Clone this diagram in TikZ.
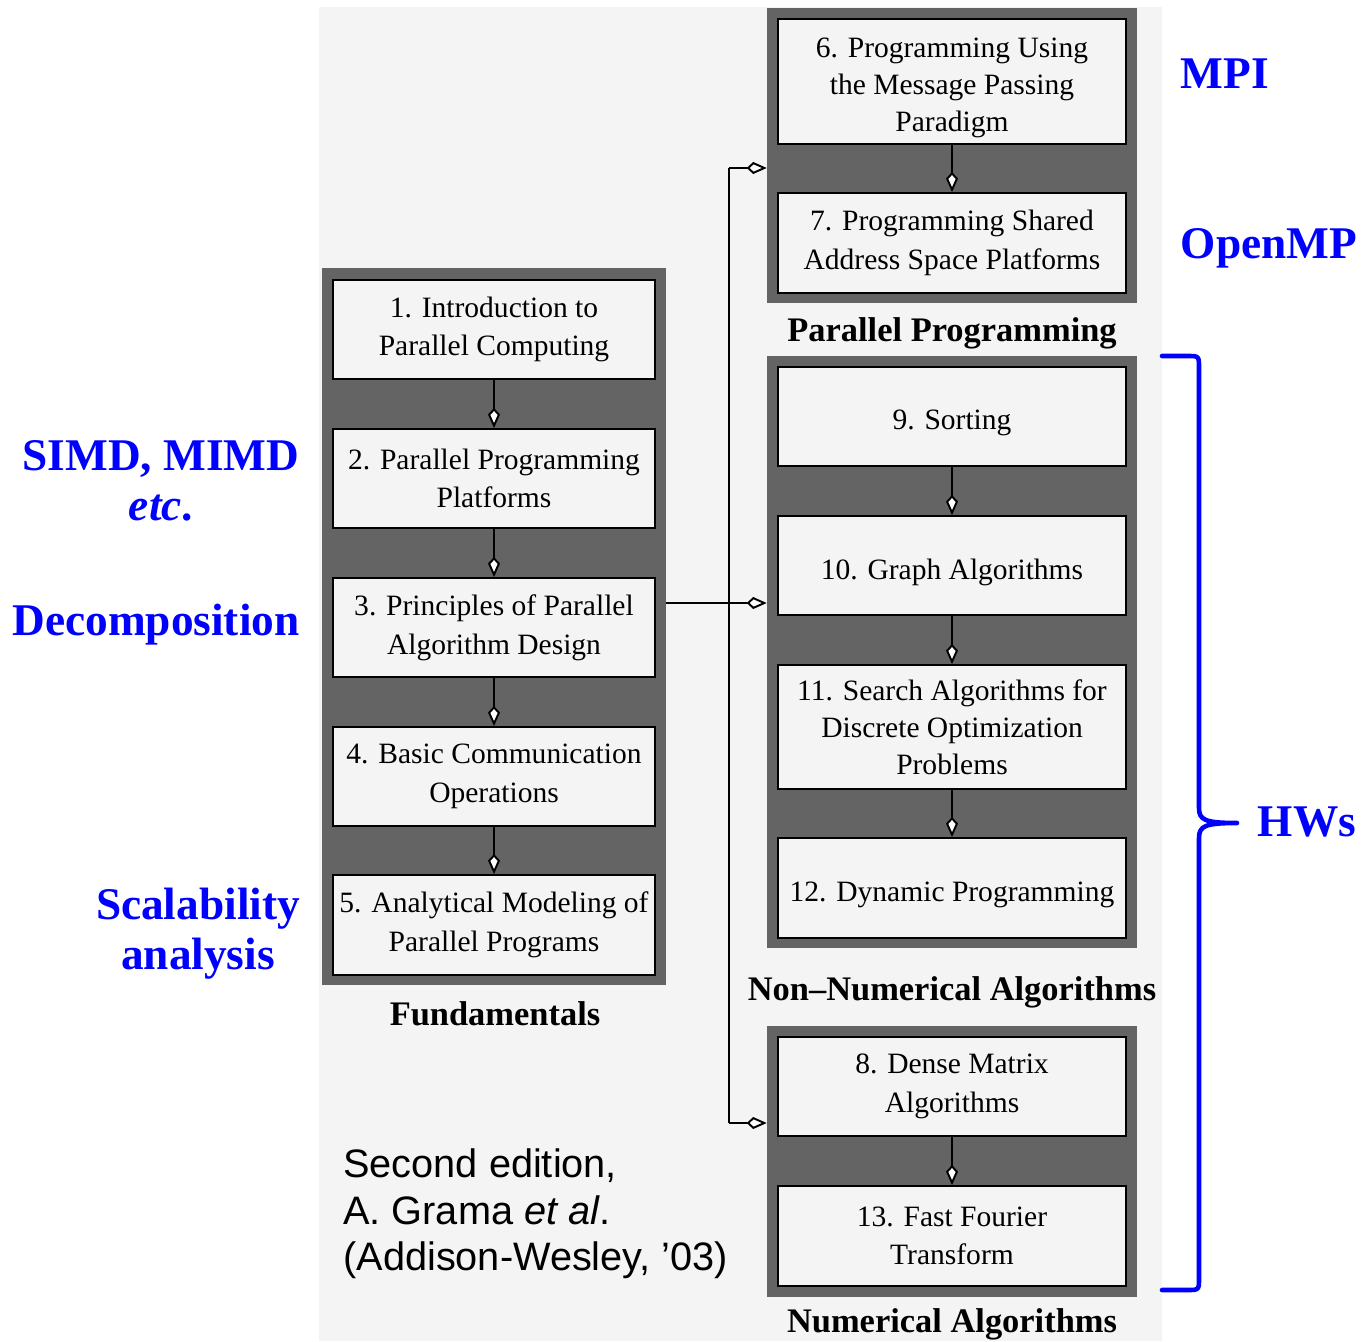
\documentclass[tikz,border=0pt]{standalone}
\usepackage{fontspec}
\setmainfont{Liberation Serif}
\setsansfont{Liberation Sans}
\usetikzlibrary{arrows.meta,positioning}
\definecolor{paper}{RGB}{244,244,244}
\definecolor{panelgray}{RGB}{100,100,100}
\newcommand\LeftW{6.44cm}
\newcommand\RightW{6.96cm}
\newcommand\Lift{\rule{0pt}{0.64cm}}
\tikzset{
  chapter/.style={
    draw,
    line width=1.1pt,
    fill=paper,
    inner sep=0pt,
    align=center,
    font=\fontsize{16.8}{22}\selectfont
  },
  oneline/.style={
    text height=0.54cm,
    text depth=0pt
  },
}
\tikzset{
  panel/.style={
    fill=panelgray,
    inner sep=0pt
  },
}
\tikzset{
  link/.style={
    line width=1.1pt,
    -{Kite[length=0.4cm,width=0.24cm,inset=0.13cm,fill=white]}
  },
  bus/.style={
    line width=1.1pt
  },
  grouplabel/.style={
    font=\fontsize{19.6}{24}\selectfont\bfseries,
    inner sep=0pt
  },
  hint/.style={
    text=blue,
    align=center,
    inner sep=0pt,
    font=\fontsize{25.8}{28.3}\selectfont\bfseries
  },
  hwbrace/.style={
    draw=blue,
    line width=2.6pt,
    line cap=round,
    line join=round
  }
}

\begin{document}
\begin{tikzpicture}[x=0.02cm,y=-0.02cm]
    \useasboundingbox (0,0) rectangle (1361,1341);
    \fill[paper] (319,7) rectangle (1162,1341);

    % panels
    \node[panel, minimum width=6.88cm, minimum height=14.34cm] (fund) at (494,626.5) {};
    \node[panel, minimum width=7.4cm, minimum height=5.9cm] (pp) at (952,155.5) {};
    \node[panel, minimum width=7.4cm, minimum height=11.84cm] (nonnum) at (952,652) {};
    \node[panel, minimum width=7.4cm, minimum height=5.42cm] (num) at (952,1161.5) {};

    % fundamentals
    \node[chapter, minimum width=\LeftW, minimum height=1.98cm] (ch1) at (494,329.5) {1. Introduction to\\Parallel Computing};
    \node[chapter, minimum width=\LeftW, minimum height=1.98cm] (ch2) at (494,478.5) {2. Parallel Programming\\Platforms};
    \node[chapter, minimum width=\LeftW, minimum height=1.98cm] (ch3) at (494,627.5) {3. Principles of Parallel\\Algorithm Design};
    \node[chapter, minimum width=\LeftW, minimum height=1.98cm] (ch4) at (494,776.5) {4. Basic Communication\\Operations};
    \node[chapter, minimum width=\LeftW, minimum height=2cm] (ch5) at (494,925) {5. Analytical Modeling of\\Parallel Programs};
    \draw[link] (ch1) -- (ch2);
    \draw[link] (ch2) -- (ch3);
    \draw[link] (ch3) -- (ch4);
    \draw[link] (ch4) -- (ch5);
    \node[grouplabel] (fundlabel) at (495,1014) {Fundamentals};

    % parallel programming
    \node[chapter, minimum width=\RightW, minimum height=2.5cm, font=\fontsize{16.8}{21}\selectfont] (ch6) at (952,81.5) {\Lift 6. Programming Using\\the Message Passing\\Paradigm};
    \node[chapter, minimum width=\RightW, minimum height=2cm] (ch7) at (952,243) {7. Programming Shared\\Address Space Platforms};
    \draw[link] (ch6) -- (ch7);
    \node[grouplabel] (pplabel) at (952,333) {Parallel Programming};

    % non-numerical
    \node[chapter, oneline, minimum width=\RightW, minimum height=1.98cm] (ch9) at (952,416.5) {9. Sorting};
    \node[chapter, oneline, minimum width=\RightW, minimum height=1.98cm] (ch10) at (952,565.5) {10. Graph Algorithms};
    \node[chapter, minimum width=\RightW, minimum height=2.48cm, font=\fontsize{16.8}{21}\selectfont] (ch11) at (952,727) {11. Search Algorithms for\\Discrete Optimization\\Problems};
    \node[chapter, oneline, minimum width=\RightW, minimum height=2cm] (ch12) at (952,888) {12. Dynamic Programming};
    \draw[link] (ch9) -- (ch10);
    \draw[link] (ch10) -- (ch11);
    \draw[link] (ch11) -- (ch12);
    \node[grouplabel] (nonnumlabel) at (952,992) {Non--Numerical Algorithms};

    % numerical
    \node[chapter, minimum width=\RightW, minimum height=1.98cm] (ch8) at (952,1086.5) {8. Dense Matrix\\Algorithms};
    \node[chapter, minimum width=\RightW, minimum height=2cm] (ch13) at (952,1236) {13. Fast Fourier\\Transform};
    \draw[link] (ch8) -- (ch13);
    \node[grouplabel] (numlabel) at (952,1324) {Numerical Algorithms};

    % bus from fundamentals
    \coordinate (bustop) at (729,168);
    \coordinate (tap) at (729,603);
    \coordinate (busbot) at (729,1123);
    \draw[bus] (bustop) -- (busbot);
    \draw[link] (bustop) -- (pp.west |- bustop);
    \draw[link] (fund.east |- tap) -- (nonnum.west |- tap);
    \draw[link] (busbot) -- (num.west |- busbot);

    % blue notes
    \node[hint] (simd) at (161,481) {SIMD, MIMD\\\textit{etc}.};
    \node[hint] (decomp) at (156,625) {Decomposition};
    \node[hint] (scal) at (198,934) {Scalability\\analysis};
    \node[hint] (mpi) at (1225,74) {MPI};
    \node[hint] (omp) at (1269,248) {OpenMP};
    \node[hint] (hws) at (1307,822) {HWs};
    \draw[hwbrace] (1162,356) -- (1187,356) .. controls (1199,356) and (1199,356) .. (1199,368)
        -- (1199,808) .. controls (1199,820) and (1205,823) .. (1237,823)
        .. controls (1205,823) and (1199,826) .. (1199,838)
        -- (1199,1278) .. controls (1199,1290) and (1199,1290) .. (1187,1290) -- (1162,1290);

    % edition note
    \node[anchor=west, align=left, inner sep=0pt, font=\sffamily\fontsize{22.6}{26.4}\selectfont] (edition) at (343,1214) {Second edition,\\A. Grama \textit{et al}.\\(Addison-Wesley, ’03)};
\end{tikzpicture}
\end{document}
